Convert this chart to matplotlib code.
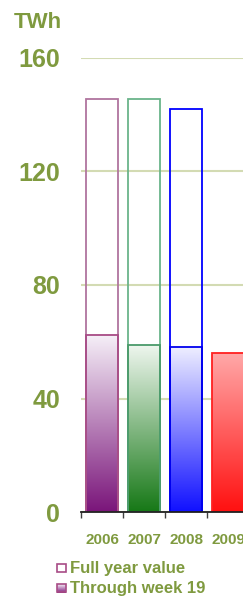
import numpy as np
import matplotlib.pyplot as plt
from matplotlib.patches import Rectangle
from matplotlib.colors import LinearSegmentedColormap

years = ['2006', '2007', '2008', '2009']
full_year = [145.5, 145.5, 142.0, None]
through_week = [62.5, 58.8, 58.0, 56.0]
yticks = [0, 40, 80, 120, 160]

# (top colour, bottom colour, edge colour of gradient bar, edge colour of full-year bar)
bar_styles = [
    ('#f6f0f8', '#7a157a', '#a84c86', '#b0749e'),
    ('#eef6ee', '#167816', '#4a9a6a', '#6ab48a'),
    ('#eeeeff', '#1010ff', '#0000ee', '#0000ff'),
    ('#ffa8a8', '#ff1010', '#ff2020', '#ff2020'),
]

txt = '#7f9a3f'
plt.rcParams['font.family'] = ['Liberation Sans', 'DejaVu Sans']
plt.rcParams['font.weight'] = 'bold'

fig = plt.figure(figsize=(2.43, 5.96), dpi=100)
ax = fig.add_axes([81 / 243, 1 - 512 / 596, 1 - 81 / 243, (512 - 58) / 596])

width = 0.77
for i, (fv, tw, st) in enumerate(zip(full_year, through_week, bar_styles)):
    top, bottom, edge_tw, edge_fy = st
    cmap = LinearSegmentedColormap.from_list('g%d' % i, [bottom, top])
    grad = np.linspace(0, 1, 256).reshape(-1, 1)
    x0 = i - width / 2
    ax.imshow(grad, cmap=cmap, origin='lower', aspect='auto',
              extent=[x0, x0 + width, 0, tw], zorder=2)
    if fv is not None:
        ax.add_patch(Rectangle((x0, 0), width, fv, fill=False,
                               edgecolor=edge_fy, linewidth=1.3, zorder=3))
    ax.add_patch(Rectangle((x0, 0), width, tw, fill=False,
                           edgecolor=edge_tw, linewidth=1.3, zorder=4))

ax.set_yticks(yticks)
ax.set_yticklabels([str(v) for v in yticks], fontsize=18, fontweight='bold', color=txt)
ax.tick_params(axis='y', length=0, pad=15)
ax.set_xticks(range(len(years)))
ax.set_xticklabels(years, fontsize=11, fontweight='bold', color=txt)
ax.tick_params(axis='x', length=0, pad=15)
ax.set_xticks([-0.5, 0.5, 1.5, 2.5], minor=True)
ax.tick_params(axis='x', which='minor', length=4, width=1, color='#404040')
for t in ax.get_xticklabels():
    t.set_clip_on(False)
# limits last, so tick setting can't widen them
ax.set_xlim(-0.5, 3.35)
ax.set_ylim(0, 160)

ax.grid(axis='y', color='#d3dbb3', linewidth=1.5, zorder=0)
ax.set_axisbelow(True)
for s in ['top', 'right', 'left']:
    ax.spines[s].set_visible(False)
ax.spines['bottom'].set_color('#202020')
ax.spines['bottom'].set_linewidth(1.3)
ax.spines['bottom'].set_zorder(5)

fig.text(38 / 243, 1 - 23 / 596, 'TWh', fontsize=16, fontweight='bold', color=txt,
         ha='center', va='center')

# legend
sq = 9
lx = 57
for j, (label, ly) in enumerate([('Full year value', 568), ('Through week 19', 588)]):
    lax = fig.add_axes([lx / 243, 1 - (ly + sq / 2) / 596, sq / 243, sq / 596])
    lax.set_xlim(0, 1)
    lax.set_ylim(0, 1)
    lax.axis('off')
    if j == 1:
        cmap = LinearSegmentedColormap.from_list('leg', ['#7a157a', '#f6f0f8'])
        lax.imshow(np.linspace(0, 1, 64).reshape(-1, 1), cmap=cmap, origin='lower',
                   aspect='auto', extent=[0, 1, 0, 1])
    lax.add_patch(Rectangle((0.05, 0.05), 0.9, 0.9, fill=False,
                            edgecolor='#a84c86', linewidth=1.2, clip_on=False))
    fig.text(70 / 243, 1 - ly / 596, label, fontsize=12, fontweight='bold',
             color=txt, ha='left', va='center')

fig.savefig('out.png', dpi=100)
